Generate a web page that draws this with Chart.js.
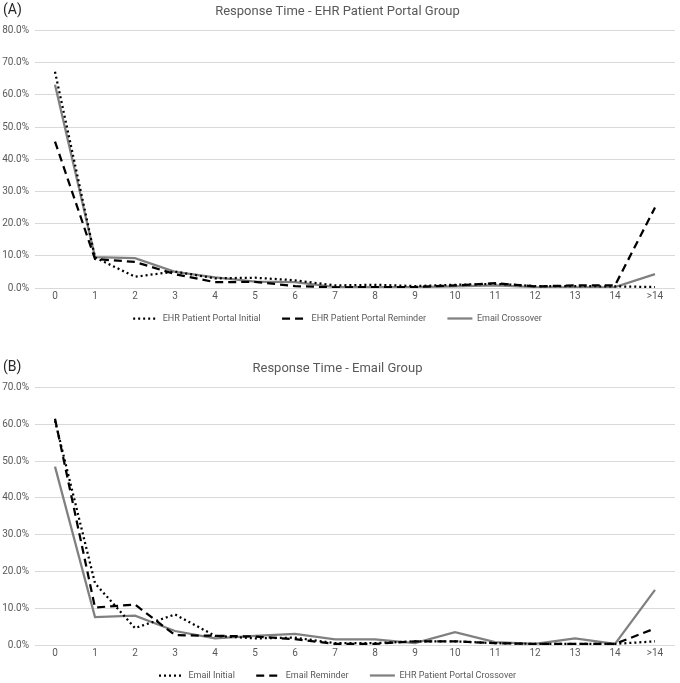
<!DOCTYPE html>
<html>
<head>
<meta charset="utf-8">
<script src="https://cdn.jsdelivr.net/npm/chart.js@4"></script>
<style>
  html, body { margin: 0; overflow: hidden; }
  body { background: #fff; width: 680px; height: 683px; position: relative; font-family: Roboto, sans-serif; }
  .panel { position: absolute; left: 0; width: 680px; }
  .tag { position: absolute; left: 3px; font-size: 14px; color: #262626; }
</style>
</head>
<body>
<div class="panel" style="top:0;height:333px"><canvas id="chartA"></canvas></div>
<div class="panel" style="top:357px;height:333px"><canvas id="chartB"></canvas></div>
<div class="tag" style="top:1px">(A)</div>
<div class="tag" style="top:358px">(B)</div>
<script>
let days = ["0", "1", "2", "3", "4", "5", "6", "7", "8", "9", "10", "11", "12", "13", "14", ">14"];

// panel A - EHR patient portal group (percent)
let portalInitial = [67.2, 9.5, 3.5, 5.1, 3.0, 3.2, 2.4, 0.8, 1.0, 0.6, 1.0, 1.3, 0.6, 0.6, 0.5, 0.3];
let portalReminder = [45.5, 9.0, 8.1, 4.3, 1.8, 1.9, 0.6, 0.2, 0.3, 0.3, 0.8, 1.5, 0.5, 0.8, 0.8, 25.0];
let emailCrossover = [63.2, 9.6, 9.3, 5.0, 3.3, 2.0, 1.8, 0.3, 0.3, 0.3, 0.5, 0.8, 0.3, 0.2, 0.3, 4.3];

// panel B - email group (percent)
let emailInitial = [61.0, 16.8, 4.6, 8.3, 2.5, 1.8, 2.0, 0.5, 0.5, 1.0, 1.0, 0.5, 0.3, 0.3, 0.3, 1.0];
let emailReminder = [61.5, 10.2, 11.0, 2.7, 2.5, 2.3, 1.6, 0.3, 0.3, 1.0, 1.0, 0.5, 0.3, 0.3, 0.3, 4.5];
let portalCrossover = [48.5, 7.6, 8.0, 3.8, 1.8, 2.5, 3.0, 1.5, 1.5, 0.5, 3.5, 0.8, 0.3, 1.8, 0.3, 15.0];

let grey = "#595959";
let fontFam = "Roboto, sans-serif";

function lineSet(label, data, kind) {
  let ds = {
    label: label,
    data: data,
    borderWidth: 2.25,
    pointRadius: 0,
    pointStyle: "line",
    tension: 0,
    fill: false,
  };
  if (kind === "dot") {
    ds.borderColor = "#000000";
    ds.borderDash = [2, 3];
  } else if (kind === "dash") {
    ds.borderColor = "#000000";
    ds.borderDash = [8, 5];
  } else {
    ds.borderColor = "#808080";
  }
  return ds;
}

// legend items lose the dataset dash when usePointStyle is on, so put it back.
// trailing spaces widen the gap between items without a tall legend padding
function legendLabels(chart) {
  let items = Chart.defaults.plugins.legend.labels.generateLabels(chart);
  items.forEach(function (item, i) {
    let ds = chart.data.datasets[item.datasetIndex];
    item.lineDash = ds.borderDash || [];
    item.strokeStyle = ds.borderColor;
    item.lineWidth = ds.borderWidth;
    item.text = i < items.length - 1 ? ds.label + "      " : ds.label;
  });
  return items;
}

function makeChart(id, title, yMax, sets) {
  return new Chart(document.getElementById(id).getContext("2d"), {
    type: "line",
    data: { labels: days, datasets: sets },
    options: {
      responsive: true,
      maintainAspectRatio: false,
      animation: false,
      layout: { padding: { left: 0, right: 5, top: 4, bottom: 0 } },
      plugins: {
        title: {
          display: true,
          text: title,
          color: grey,
          font: { family: fontFam, size: 13, weight: "normal" },
          padding: { top: 0, bottom: 11 },
        },
        legend: {
          display: true,
          position: "bottom",
          labels: {
            usePointStyle: true,
            pointStyleWidth: 25,
            boxHeight: 6,
            color: grey,
            padding: 8,
            font: { family: fontFam, size: 9 },
            generateLabels: legendLabels,
          },
        },
        tooltip: { enabled: false },
      },
      scales: {
        x: {
          offset: true,
          afterFit: function (scale) { scale.height = 18; },
          grid: { display: false, drawTicks: false, tickLength: 0 },
          border: { display: false },
          ticks: { color: grey, padding: 2, font: { family: fontFam, size: 10 }, maxRotation: 0, autoSkip: false },
        },
        y: {
          min: 0,
          max: yMax,
          afterFit: function (scale) { scale.width = 35; },
          grid: { color: "#d9d9d9", drawTicks: false },
          border: { display: false },
          ticks: {
            stepSize: 10,
            color: grey,
            padding: 6,
            font: { family: fontFam, size: 10 },
            callback: function (v) { return v.toFixed(1) + "%"; },
          },
        },
      },
    },
  });
}

makeChart("chartA", "Response Time - EHR Patient Portal Group", 80, [
  lineSet("EHR Patient Portal Initial", portalInitial, "dot"),
  lineSet("EHR Patient Portal Reminder", portalReminder, "dash"),
  lineSet("Email Crossover", emailCrossover, "solid"),
]);

makeChart("chartB", "Response Time - Email Group", 70, [
  lineSet("Email Initial", emailInitial, "dot"),
  lineSet("Email Reminder", emailReminder, "dash"),
  lineSet("EHR Patient Portal Crossover", portalCrossover, "solid"),
]);
</script>
</body>
</html>
